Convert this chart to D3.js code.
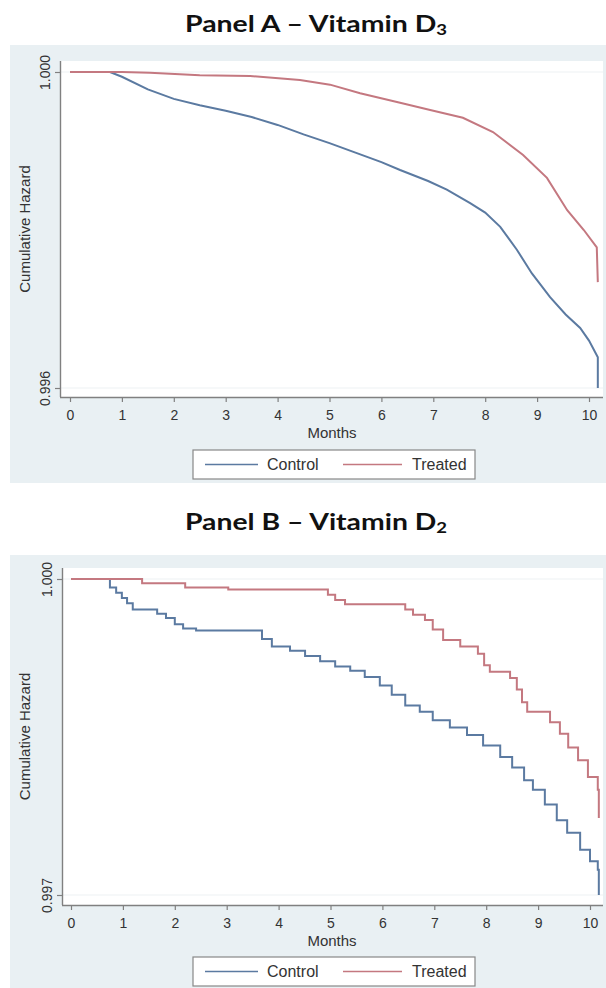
<!DOCTYPE html>
<html>
<head>
<meta charset="utf-8">
<script src="https://cdn.jsdelivr.net/npm/d3@7"></script>
<style>
  body { margin: 0; background: #fff; }
  svg { display: block; }
</style>
</head>
<body>
<div class="canva"></div>
<script>
// months ticks shared by both panels
month_ticks = [0, 1, 2, 3, 4, 5, 6, 7, 8, 9, 10]
legend_labels = ["Control", "Treated"]

// Panel A - Vitamin D3 : [months, cumulative hazard]
a_control = [
  [0, 1.0], [0.77, 1.0], [1.0, 0.99994], [1.5, 0.99978], [2.0, 0.99966], [2.5, 0.99958],
  [3.0, 0.99951], [3.5, 0.99943], [4.0, 0.99933], [4.5, 0.99921], [5.0, 0.99910],
  [5.5, 0.99898], [6.0, 0.99886], [6.36, 0.99876], [6.9, 0.99862], [7.26, 0.99851],
  [7.71, 0.99834], [8.0, 0.99822], [8.29, 0.99804], [8.61, 0.99775], [8.9, 0.99745],
  [9.25, 0.99715], [9.55, 0.99693], [9.83, 0.99676], [10.0, 0.99660], [10.17, 0.99639],
  [10.17, 0.99600]
]
a_treated = [
  [0, 1.0], [1.0, 1.0], [1.54, 0.99999], [2.5, 0.99996], [3.47, 0.99995], [4.43, 0.99990],
  [5.01, 0.99984], [5.59, 0.99973], [6.36, 0.99961], [6.94, 0.99952], [7.57, 0.99942],
  [8.15, 0.99924], [8.73, 0.99895], [9.19, 0.99866], [9.58, 0.99825], [9.9, 0.99800],
  [10.15, 0.99778], [10.17, 0.99734]
]

// Panel B - Vitamin D2
b_control = [
  [0, 1.0], [0.75, 0.99992], [0.87, 0.99987], [0.98, 0.99982], [1.08, 0.99977], [1.19, 0.99971],
  [1.66, 0.99967], [1.83, 0.99963], [2.0, 0.99957], [2.16, 0.99953], [2.41, 0.99951],
  [3.68, 0.99943], [3.87, 0.99936], [4.22, 0.99932], [4.51, 0.99927], [4.8, 0.99922],
  [5.09, 0.99917], [5.38, 0.99913], [5.66, 0.99907], [5.95, 0.99899], [6.18, 0.99890],
  [6.44, 0.99880], [6.72, 0.99874], [6.97, 0.99866], [7.3, 0.99859], [7.63, 0.99852],
  [7.94, 0.99842], [8.27, 0.99831], [8.5, 0.99821], [8.73, 0.99809], [8.9, 0.99800],
  [9.13, 0.99786], [9.36, 0.99771], [9.56, 0.99759], [9.81, 0.99743], [10.0, 0.99732],
  [10.15, 0.99724], [10.17, 0.99700], [10.17, 0.99700]
]
b_treated = [
  [0, 1.0], [1.37, 0.99996], [2.2, 0.99992], [3.03, 0.99990], [4.95, 0.99985], [5.09, 0.99980],
  [5.28, 0.99976], [6.44, 0.99971], [6.59, 0.99966], [6.82, 0.99961], [6.97, 0.99952],
  [7.17, 0.99942], [7.5, 0.99936], [7.84, 0.99929], [7.96, 0.99918], [8.07, 0.99912],
  [8.46, 0.99906], [8.59, 0.99895], [8.69, 0.99883], [8.79, 0.99874], [9.23, 0.99864],
  [9.42, 0.99853], [9.58, 0.99840], [9.77, 0.99828], [9.96, 0.99812], [10.15, 0.99800],
  [10.17, 0.99773], [10.17, 0.99773]
]

control_color = "#5b7aa1"
treated_color = "#c47880"
bg_color = "#e9f0f3"
axis_color = "#808080"
text_color = "#333"
font = "'Liberation Sans', Arial, sans-serif"

const svg = d3.select('.canva').append('svg')
  .attr('width', 606)
  .attr('height', 988)

function drawPanel(p) {
  const g = svg.append('g')

  // title with subscript
  const t = g.append('text')
    .attr('x', 316).attr('y', p.titleY)
    .attr('text-anchor', 'middle')
    .attr('font-family', "Lato, 'Open Sans', sans-serif")
    .attr('font-weight', 'bold')
    .attr('font-size', 23)
    .attr('fill', '#111')
    .attr('textLength', 262)
    .attr('lengthAdjust', 'spacingAndGlyphs')
  t.append('tspan').text(p.title)
  t.append('tspan').attr('font-size', 15).attr('dy', 3).text(p.sub)

  // graph region and plot region
  g.append('rect')
    .attr('x', 10).attr('y', p.bgTop)
    .attr('width', 596).attr('height', p.bgBottom - p.bgTop)
    .attr('fill', bg_color)
  g.append('rect')
    .attr('x', p.left).attr('y', p.top)
    .attr('width', p.right - p.left).attr('height', p.bottom - p.top)
    .attr('fill', '#fff')

  const x = d3.scaleLinear().domain([0, 10]).range([p.x0, p.x10])
  const y = d3.scaleLinear().domain([p.yMin, 1.0]).range([p.yMinPx, p.yMaxPx])

  // faint gridlines at y ticks
  g.selectAll('.grid').data(p.yTicks).enter().append('line')
    .attr('x1', p.left).attr('x2', p.right)
    .attr('y1', d => y(d)).attr('y2', d => y(d))
    .attr('stroke', '#edf1f4').attr('stroke-width', 1.2)

  // x axis
  const xa = g.append('g')
    .attr('transform', `translate(0,${p.bottom})`)
    .call(d3.axisBottom(x).tickValues(month_ticks).tickSize(5).tickPadding(8).tickFormat(d3.format('d')))
  xa.select('.domain').attr('d', `M${p.left},0.5H${p.right}`).attr('stroke', axis_color).attr('stroke-width', 1.4)
  xa.selectAll('.tick line').attr('stroke', axis_color).attr('stroke-width', 1.2)
  xa.selectAll('.tick text')
    .attr('font-family', font).attr('font-size', 14).attr('fill', text_color)

  // y axis
  const ya = g.append('g')
    .attr('transform', `translate(${p.left},0)`)
    .call(d3.axisLeft(y).tickValues(p.yTicks).tickSize(5).tickFormat(d3.format('.3f')))
  ya.select('.domain').attr('d', `M0.5,${p.top}V${p.bottom}`).attr('stroke', axis_color).attr('stroke-width', 1.4)
  ya.selectAll('.tick line').attr('stroke', axis_color).attr('stroke-width', 1.2)
  ya.selectAll('.tick text')
    .attr('x', 0).attr('dy', 0)
    .attr('transform', 'translate(-10,0) rotate(-90)')
    .attr('text-anchor', 'middle')
    .attr('font-family', font).attr('font-size', 14).attr('fill', text_color)

  // axis titles
  g.append('text')
    .attr('transform', `translate(30,${(p.top + p.bottom) / 2}) rotate(-90)`)
    .attr('text-anchor', 'middle')
    .attr('font-family', font).attr('font-size', 15).attr('fill', text_color)
    .text('Cumulative Hazard')
  g.append('text')
    .attr('x', 332).attr('y', p.bottom + 41)
    .attr('text-anchor', 'middle')
    .attr('font-family', font).attr('font-size', 15).attr('fill', text_color)
    .text('Months')

  // curves
  const line = d3.line().x(d => x(d[0])).y(d => y(d[1])).curve(p.curve)
  g.append('path').datum(p.control).attr('d', line)
    .attr('fill', 'none').attr('stroke', control_color).attr('stroke-width', 2)
  g.append('path').datum(p.treated).attr('d', line)
    .attr('fill', 'none').attr('stroke', treated_color).attr('stroke-width', 2)

  // legend
  const lg = g.append('g').attr('transform', `translate(193,${p.legendY})`)
  lg.append('rect').attr('x', 0).attr('y', 0).attr('width', 282).attr('height', 29)
    .attr('fill', '#fff').attr('stroke', '#888').attr('stroke-width', 1.2)
  const items = [
    {label: legend_labels[0], color: control_color, x1: 12, x2: 65, tx: 74},
    {label: legend_labels[1], color: treated_color, x1: 150, x2: 209, tx: 219}
  ]
  items.forEach(it => {
    lg.append('line').attr('x1', it.x1).attr('x2', it.x2).attr('y1', 14.5).attr('y2', 14.5)
      .attr('stroke', it.color).attr('stroke-width', 1.5)
    lg.append('text').attr('x', it.tx).attr('y', 20)
      .attr('font-family', font).attr('font-size', 16).attr('fill', text_color)
      .text(it.label)
  })
}

drawPanel({
  title: 'Panel A \u2013 Vitamin D', sub: '3', titleY: 32,
  bgTop: 45, bgBottom: 483,
  left: 60, right: 603, top: 61, bottom: 397,
  x0: 70, x10: 589,
  yMin: 0.996, yMinPx: 388, yMaxPx: 72, yTicks: [0.996, 1.0],
  legendY: 450, curve: d3.curveLinear,
  control: a_control, treated: a_treated
})

drawPanel({
  title: 'Panel B \u2013 Vitamin D', sub: '2', titleY: 530,
  bgTop: 555, bgBottom: 988,
  left: 62, right: 603, top: 568, bottom: 905,
  x0: 71, x10: 590,
  yMin: 0.997, yMinPx: 895, yMaxPx: 579, yTicks: [0.997, 1.0],
  legendY: 957, curve: d3.curveStepAfter,
  control: b_control, treated: b_treated
})
</script>
</body>
</html>
